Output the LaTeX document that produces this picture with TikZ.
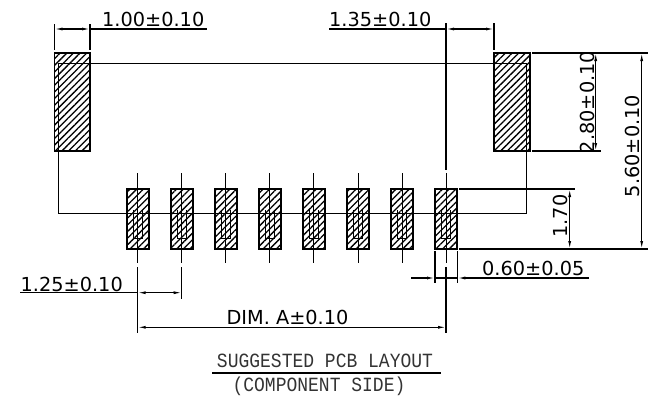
\documentclass[tikz,border=0pt]{standalone}
\usepackage{fontspec}
\setmainfont{DejaVu Sans}
\setmonofont{Liberation Mono}
\usetikzlibrary{arrows.meta,patterns.meta}
\tikzset{
  padbox/.style={draw,line width=1.6pt,pattern={Lines[angle=45,distance=4.7pt,line width=1.3pt]}},
  outline/.style={line width=0.8pt},
  extline/.style={line width=1.2pt},
  heavyline/.style={line width=1.6pt},
  dimline/.style={line width=1.1pt,{Latex[length=8pt,width=3pt]}-{Latex[length=8pt,width=3pt]}},
  dimtext/.style={font=\fontsize{19.3}{20}\selectfont,inner sep=0pt},
  titletext/.style={font=\ttfamily\fontsize{18}{18}\selectfont,inner sep=0pt,text=black!80,yscale=1.12}
}
\begin{document}
\begin{tikzpicture}[x=1pt,y=-1pt]
\useasboundingbox (0,0) rectangle (652,399);
%---------------------Big Pads------------------%
\draw[padbox] (54.5,53) rectangle (90,151);
\draw[padbox] (494,53) rectangle (530,151);
%---------------------Small Pads------------------%
\foreach \padx in {137.7,181.7,225.8,269.8,313.8,357.9,401.9,446}{
  \draw[outline] (\padx,173) -- (\padx,263);
  \draw[padbox] (\padx-11,189) rectangle (\padx+11,249);
  \draw[outline] (\padx-4.3,210) -- (\padx-4.3,238) -- (\padx+4.3,238) -- (\padx+4.3,210);
}
%---------------------Body Outline------------------%
\draw[outline] (58,63) rectangle (526,213);
%---------------------Top Dimensions------------------%
\draw[extline] (54.5,24) -- (54.5,50);
\draw[extline] (90,24) -- (90,50);
\draw[dimline] (54.5,29) -- (90,29);
\draw[extline] (90,29) -- (207,29);
\node[dimtext,anchor=base west] (widthpad) at (102,26.7) {1.00±0.10};
\draw[extline] (446,23) -- (446,170);
\draw[extline] (494,23) -- (494,50);
\draw[dimline] (446,29) -- (494,29);
\draw[extline] (329,29) -- (446,29);
\node[dimtext,anchor=base west] (gappad) at (329,26.7) {1.35±0.10};
%---------------------Right Dimensions------------------%
\draw[heavyline] (532,53) -- (648,53);
\draw[heavyline] (532,151) -- (601,151);
\draw[dimline] (595.7,53) -- (595.7,151);
\node[dimtext,rotate=90,anchor=base] (heightpad) at (594,102) {2.80±0.10};
\draw[dimline] (641.7,53) -- (641.7,249);
\node[dimtext,rotate=90,anchor=base] (heighttotal) at (639.5,146) {5.60±0.10};
\draw[heavyline] (459,189) -- (575,189);
\draw[heavyline] (459,249) -- (648,249);
\draw[dimline] (569.7,189) -- (569.7,249);
\node[dimtext,rotate=90,anchor=base] (heightsmall) at (567,216) {1.70};
%---------------------Bottom Dimensions------------------%
\draw[extline] (435,251) -- (435,283);
\draw[extline] (457.3,251) -- (457.3,283);
\draw[extline] (446,267) -- (446,333);
\draw[extline,-{Latex[length=8pt,width=3pt]}] (411,278) -- (435,278);
\draw[extline,-{Latex[length=8pt,width=3pt]}] (589,278) -- (457.3,278);
\draw[extline] (435,278) -- (457.3,278);
\node[dimtext,anchor=base west] (widthsmall) at (482,275.7) {0.60±0.05};
\draw[extline] (137.7,267) -- (137.7,333);
\draw[extline] (181.7,267) -- (181.7,299);
\draw[dimline] (137.7,292.7) -- (181.7,292.7);
\draw[extline] (20,292.7) -- (137.7,292.7);
\node[dimtext,anchor=base west] (pitch) at (20.5,291) {1.25±0.10};
\draw[dimline] (137.7,327.3) -- (446,327.3);
\node[dimtext,anchor=base] (dima) at (287.5,324) {DIM. A±0.10};
%---------------------Title------------------%
\node[titletext,anchor=base] (titletop) at (325,367) {SUGGESTED PCB LAYOUT};
\draw[extline] (212,373) -- (441,373);
\node[titletext,anchor=base] (titlebot) at (319,391) {(COMPONENT SIDE)};
\end{tikzpicture}
\end{document}
